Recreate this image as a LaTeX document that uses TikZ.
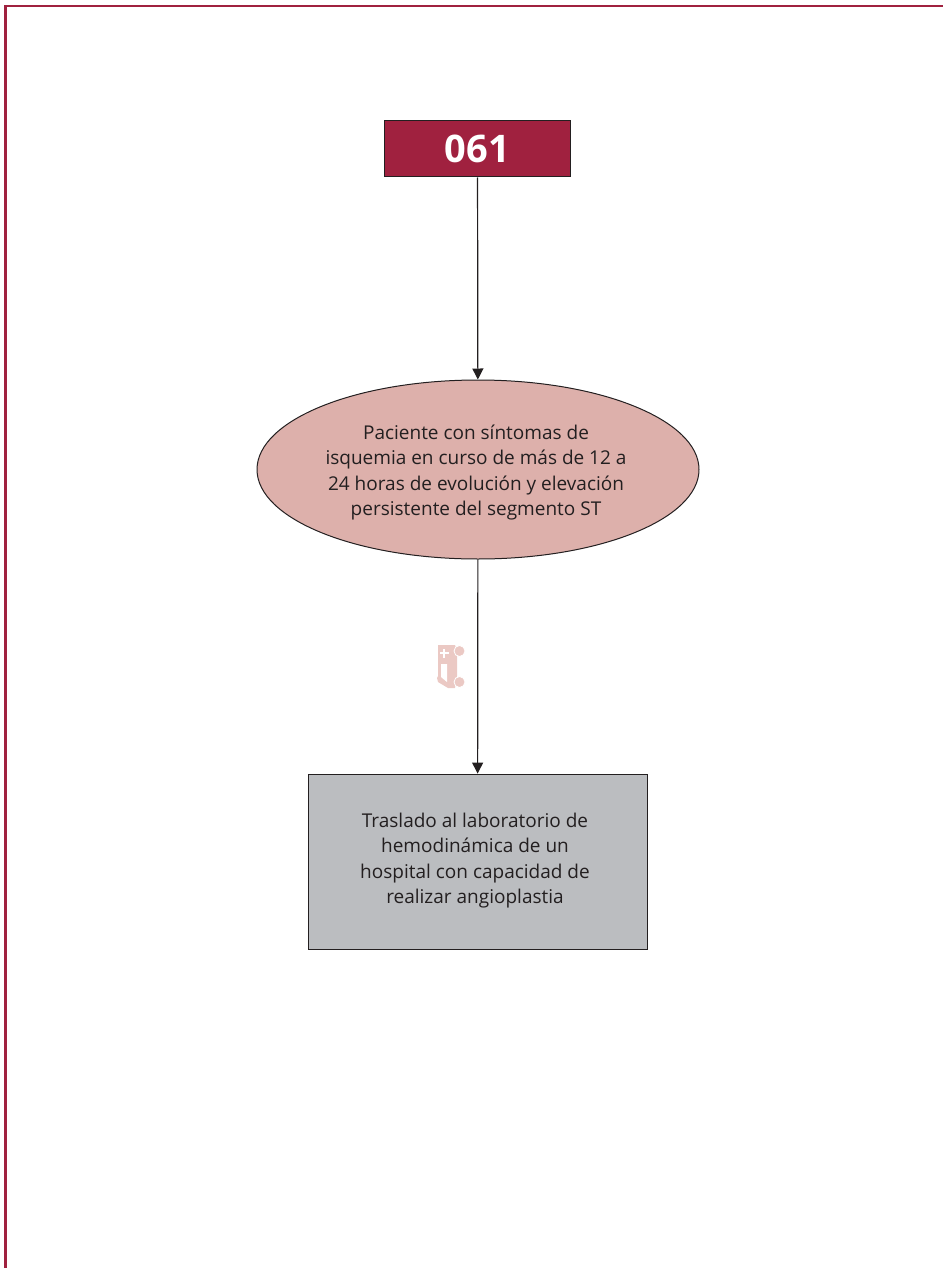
\documentclass[tikz,border=0pt]{standalone}
\usepackage{fontspec}
\setmainfont{Open Sans}
\usetikzlibrary{shapes.geometric,arrows.meta}
\definecolor{wine}{HTML}{A0213F}
\definecolor{rosa}{HTML}{DDB0AB}
\definecolor{gris}{HTML}{BBBDC0}
\definecolor{tinta}{HTML}{231F20}
\definecolor{amb}{HTML}{EBC9C4}
\tikzset{
  conn/.style={draw=tinta,line width=1.2pt,-{Triangle[length=11pt,width=11pt]}},
  bodytext/.style={text=tinta,align=center,font=\fontsize{19}{25.4}\selectfont},
}
\begin{document}
\begin{tikzpicture}[x=1pt,y=-1pt]
\useasboundingbox (0,0) rectangle (943,1268);
\draw[wine,line width=2.8pt] (5.5,1268) -- (5.5,6) -- (943,6);
\node[draw=tinta,fill=wine,line width=1pt,minimum width=186pt,minimum height=56pt,inner sep=0pt,text=white,font=\fontsize{38}{40}\selectfont\bfseries] (a) at (477.5,149) {\raisebox{-2pt}{061}};
\node[ellipse,draw=tinta,fill=rosa,line width=1pt,minimum width=442pt,minimum height=179pt,inner sep=0pt] (b) at (478,469.5) {};
\node[bodytext] (btext) at (476,472.5) {Paciente con síntomas de\\isquemia en curso de más de 12 a\\24 horas de evolución y elevación\\persistente del segmento ST};
\node[draw=tinta,fill=gris,line width=0.9pt,minimum width=339pt,minimum height=175pt,inner sep=0pt] (c) at (477.5,861.5) {};
\node[bodytext] (ctext) at (475,860.5) {Traslado al laboratorio de\\hemodinámica de un\\hospital con capacidad de\\realizar angioplastia};
\draw[conn] (a) -- (b);
\draw[conn] (b) -- (c);
% ambulance
\fill[amb] (438,645) -- (455,645) -- (457,650) -- (457,676) -- (455,688) -- (448,688) -- (438,682) -- (437,678) -- (438,676) -- cycle;
\fill[amb,draw=white,line width=0.8pt] (459.5,651) circle (5.5pt);
\fill[amb,draw=white,line width=0.8pt] (459.5,682) circle (5.5pt);
\fill[white] (441,664) -- (447,664) -- (447,682) -- (441,677) -- cycle;
\fill[white] (442.7,648.5) rectangle (445.3,657.5);
\fill[white] (439.5,651.7) rectangle (448.5,654.3);
\end{tikzpicture}
\end{document}
